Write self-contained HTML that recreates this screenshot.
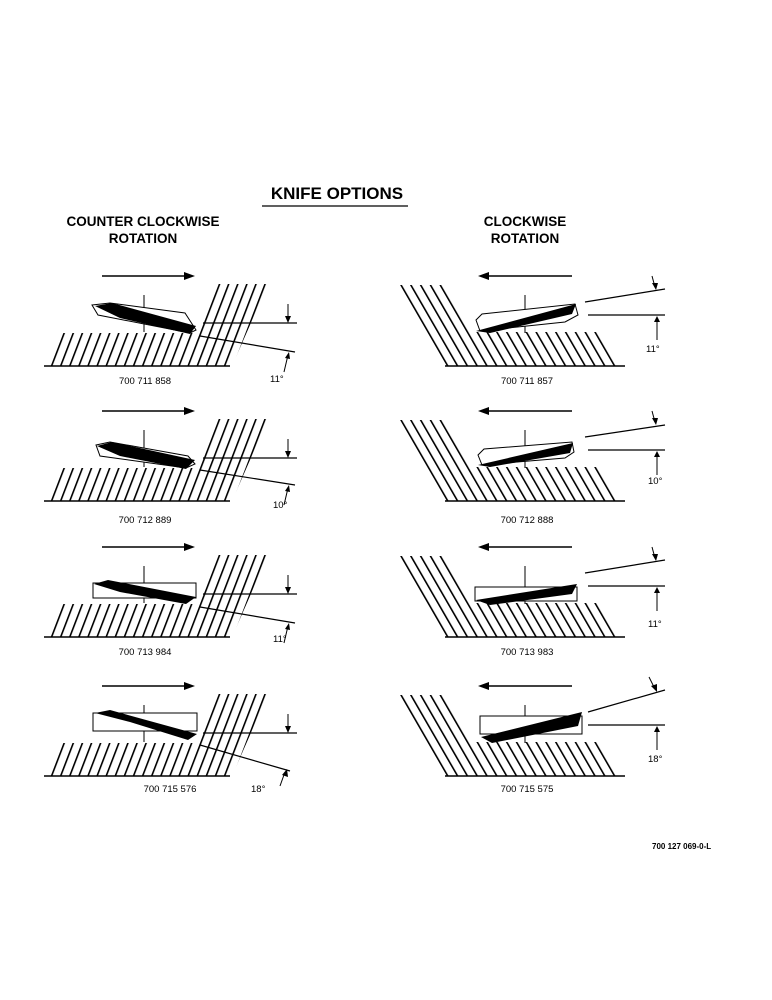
<!DOCTYPE html>
<html><head><meta charset="utf-8"><style>
html,body{margin:0;padding:0;background:#fff}
svg{display:block}
text{font-family:"Liberation Sans",sans-serif;fill:#000}
</style></head><body>
<svg width="772" height="1000" viewBox="0 0 772 1000">
<defs>
<pattern id="hl" width="8.5" height="40" patternUnits="userSpaceOnUse" patternTransform="rotate(21)">
<rect x="0" y="0" width="1.6" height="40" fill="#000"/></pattern>
<pattern id="hr" width="8.5" height="40" patternUnits="userSpaceOnUse" patternTransform="rotate(-30)">
<rect x="0" y="0" width="1.6" height="40" fill="#000"/></pattern>
<g id="L">
<line x1="102" y1="276" x2="186" y2="276" stroke="#000" stroke-width="1.4"/>
<polygon points="184,272 195,276 184,280" fill="#000"/>
<polygon points="48,366 60,333 196,333 215,284 268,284 232,366" fill="url(#hl)"/>
<line x1="44" y1="366" x2="230" y2="366" stroke="#000" stroke-width="1.5"/>
<line x1="144" y1="295" x2="144" y2="332" stroke="#000" stroke-width="1"/>
<line x1="203" y1="323" x2="297" y2="323" stroke="#000" stroke-width="1.2"/>
<line x1="288" y1="304" x2="288" y2="320" stroke="#000" stroke-width="1"/>
<polygon points="285,316 288,323 291,316" fill="#000"/>
</g>
<g id="R">
<line x1="487" y1="276" x2="572" y2="276" stroke="#000" stroke-width="1.4"/>
<polygon points="489,272 478,276 489,280" fill="#000"/>
<polygon points="398,285 445,285 476,332 600,332 623,366 445,366" fill="url(#hr)"/>
<line x1="445" y1="366" x2="625" y2="366" stroke="#000" stroke-width="1.5"/>
<line x1="525" y1="295" x2="525" y2="333" stroke="#000" stroke-width="1"/>
<line x1="588" y1="315" x2="665" y2="315" stroke="#000" stroke-width="1.2"/>
<line x1="657" y1="340" x2="657" y2="320" stroke="#000" stroke-width="1"/>
<polygon points="654,322 657,316 660,322" fill="#000"/>
</g>
</defs>

<text x="337" y="199" font-size="17" font-weight="bold" text-anchor="middle">KNIFE OPTIONS</text>
<line x1="262" y1="206" x2="408" y2="206" stroke="#000" stroke-width="1.3"/>
<text x="143" y="226" font-size="13.5" font-weight="bold" text-anchor="middle">COUNTER CLOCKWISE</text>
<text x="143" y="243" font-size="13.5" font-weight="bold" text-anchor="middle">ROTATION</text>
<text x="525" y="226" font-size="13.5" font-weight="bold" text-anchor="middle">CLOCKWISE</text>
<text x="525" y="243" font-size="13.5" font-weight="bold" text-anchor="middle">ROTATION</text>

<!-- Row 1 -->
<use href="#L"/>
<polygon points="92,305 110,303 185,313 196,330 190,333 98,315" fill="#fff" stroke="#000" stroke-width="1"/>
<polygon points="95,306 112,303 196,326 190,334 120,318" fill="#000"/>
<line x1="200" y1="336" x2="295" y2="352" stroke="#000" stroke-width="1.2"/>
<line x1="284" y1="372" x2="288" y2="355" stroke="#000" stroke-width="1"/>
<polygon points="285,358 289,352 290,359" fill="#000"/>
<text x="145" y="384" font-size="9.5" text-anchor="middle">700 711 858</text>
<text x="270" y="382" font-size="9.5">11°</text>
<use href="#R"/>
<line x1="585" y1="302" x2="665" y2="289" stroke="#000" stroke-width="1.2"/>
<line x1="652" y1="276" x2="655" y2="287" stroke="#000" stroke-width="1"/>
<polygon points="652,283 656,290 658,283" fill="#000"/>
<polygon points="476,320 482,314 575,304 578,315 565,322 480,331" fill="#fff" stroke="#000" stroke-width="1"/>
<polygon points="476,331 576,304 572,314 490,333" fill="#000"/>
<text x="527" y="384" font-size="9.5" text-anchor="middle">700 711 857</text>
<text x="646" y="352" font-size="9.5">11°</text>

<!-- Row 2 -->
<g transform="translate(0,135)"><use href="#L"/><use href="#R"/></g>
<polygon points="96,445 110,442 188,456 195,464 186,468 100,456" fill="#fff" stroke="#000" stroke-width="1"/>
<polygon points="97,446 112,442 195,460 186,469 120,456" fill="#000"/>
<line x1="200" y1="470" x2="295" y2="485" stroke="#000" stroke-width="1.2"/>
<line x1="284" y1="505" x2="288" y2="488" stroke="#000" stroke-width="1"/>
<polygon points="285,491 289,485 290,492" fill="#000"/>
<text x="145" y="523" font-size="9.5" text-anchor="middle">700 712 889</text>
<text x="273" y="508" font-size="9.5">10°</text>
<line x1="585" y1="437" x2="665" y2="425" stroke="#000" stroke-width="1.2"/>
<line x1="652" y1="411" x2="655" y2="422" stroke="#000" stroke-width="1"/>
<polygon points="652,418 656,425 658,418" fill="#000"/>
<polygon points="478,455 484,449 572,442 574,452 565,458 482,465" fill="#fff" stroke="#000" stroke-width="1"/>
<polygon points="478,465 573,443 570,453 490,467" fill="#000"/>
<text x="527" y="523" font-size="9.5" text-anchor="middle">700 712 888</text>
<text x="648" y="484" font-size="9.5">10°</text>

<!-- Row 3 -->
<g transform="translate(0,271)"><use href="#L"/><use href="#R"/></g>
<rect x="93" y="583" width="103" height="15" fill="#fff" stroke="#000" stroke-width="1"/>
<polygon points="94,584 108,580 196,597 186,604 120,592" fill="#000"/>
<line x1="200" y1="607" x2="295" y2="623" stroke="#000" stroke-width="1.2"/>
<line x1="284" y1="643" x2="288" y2="626" stroke="#000" stroke-width="1"/>
<polygon points="285,629 289,623 290,630" fill="#000"/>
<text x="145" y="655" font-size="9.5" text-anchor="middle">700 713 984</text>
<text x="273" y="642" font-size="9.5">11°</text>
<line x1="585" y1="573" x2="665" y2="560" stroke="#000" stroke-width="1.2"/>
<line x1="652" y1="547" x2="655" y2="558" stroke="#000" stroke-width="1"/>
<polygon points="652,554 656,561 658,554" fill="#000"/>
<rect x="475" y="587" width="102" height="14" fill="#fff" stroke="#000" stroke-width="1"/>
<polygon points="476,600 577,584 572,594 490,605" fill="#000"/>
<text x="527" y="655" font-size="9.5" text-anchor="middle">700 713 983</text>
<text x="648" y="627" font-size="9.5">11°</text>

<!-- Row 4 -->
<g transform="translate(0,410)"><use href="#L"/><use href="#R"/></g>
<rect x="93" y="713" width="104" height="18" fill="#fff" stroke="#000" stroke-width="1"/>
<polygon points="95,713 110,710 197,734 188,740 130,722" fill="#000"/>
<line x1="200" y1="745" x2="290" y2="771" stroke="#000" stroke-width="1.2"/>
<line x1="280" y1="786" x2="285" y2="772" stroke="#000" stroke-width="1"/>
<polygon points="282,775 287,769 288,777" fill="#000"/>
<text x="170" y="792" font-size="9.5" text-anchor="middle">700 715 576</text>
<text x="251" y="792" font-size="9.5">18°</text>
<line x1="588" y1="712" x2="665" y2="690" stroke="#000" stroke-width="1.2"/>
<line x1="649" y1="677" x2="655" y2="689" stroke="#000" stroke-width="1"/>
<polygon points="651,686 657,692 657,684" fill="#000"/>
<rect x="480" y="716" width="102" height="18" fill="#fff" stroke="#000" stroke-width="1"/>
<polygon points="481,737 582,712 578,726 492,743" fill="#000"/>
<text x="527" y="792" font-size="9.5" text-anchor="middle">700 715 575</text>
<text x="648" y="762" font-size="9.5">18°</text>

<text x="652" y="849" font-size="8" font-weight="bold">700 127 069-0-L</text>
</svg>
</body></html>
